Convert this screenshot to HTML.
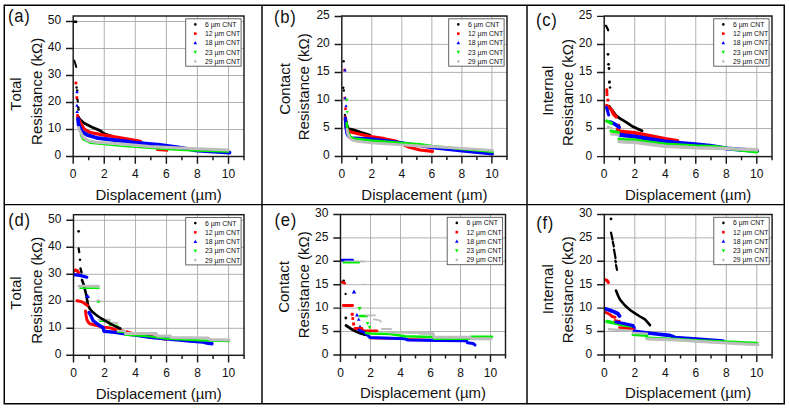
<!DOCTYPE html>
<html><head><meta charset="utf-8"><title>Resistance vs displacement</title>
<style>html,body{margin:0;padding:0;background:#fff;}body{width:789px;height:408px;overflow:hidden;font-family:"Liberation Sans", sans-serif;}svg{display:block;}</style>
</head><body>
<svg width="789" height="408" viewBox="0 0 789 408">
<style>text{font-family:"Liberation Sans",sans-serif;fill:#111;font-kerning:none}.tl{font-size:12.8px}.al{font-size:15px}.pl{font-size:18.5px;letter-spacing:0.8px}.lg{font-size:6.9px}</style>
<rect width="789" height="408" fill="#fff"/>
<clipPath id="clipa"><rect x="73.2" y="16.0" width="170.8" height="140.5"/></clipPath>
<path d="M104.26,16.00V156.50M135.32,16.00V156.50M166.38,16.00V156.50M197.44,16.00V156.50M228.50,16.00V156.50M73.20,129.50H244.00M73.20,102.50H244.00M73.20,75.50H244.00M73.20,48.50H244.00M73.20,21.50H244.00" stroke="#a8a8a8" stroke-width="0.9" fill="none"/>
<g clip-path="url(#clipa)">
<polyline points="72.60,21.70 76.20,21.70" stroke="#000" stroke-width="2.4" fill="none" stroke-linejoin="round" stroke-linecap="round"/>
<polyline points="74.20,60.50 75.30,63.50 76.20,67.00" stroke="#000" stroke-width="2.0" fill="none" stroke-linejoin="round" stroke-linecap="round"/>
<circle cx="76.60" cy="87.50" r="1.26" fill="#000"/>
<circle cx="77.20" cy="90.50" r="1.26" fill="#000"/>
<circle cx="77.40" cy="99.60" r="1.26" fill="#000"/>
<circle cx="77.80" cy="101.50" r="1.15" fill="#000"/>
<circle cx="78.30" cy="107.60" r="1.26" fill="#000"/>
<circle cx="78.60" cy="109.60" r="1.26" fill="#000"/>
<polyline points="78.00,116.50 80.00,119.50 84.30,123.30 91.60,127.00 100.20,130.60 103.90,133.50 108.80,135.40 112.40,136.40" stroke="#000" stroke-width="2.8" fill="none" stroke-linejoin="round" stroke-linecap="round"/>
<rect x="74.52" y="81.62" width="2.76" height="2.76" fill="#ff0000"/>
<rect x="75.42" y="96.22" width="2.76" height="2.76" fill="#ff0000"/>
<polyline points="77.60,115.50 78.00,117.60 81.20,124.50 84.30,129.20 90.40,132.60 102.60,134.90 122.00,138.00 140.50,141.30" stroke="#ff0000" stroke-width="3.2" fill="none" stroke-linejoin="round" stroke-linecap="round"/>
<polyline points="157.00,150.00 167.50,150.80" stroke="#ff0000" stroke-width="1.8" fill="none" stroke-linejoin="round" stroke-linecap="round"/>
<path d="M77.00,90.21L78.79,93.35L75.21,93.35Z" fill="#0000ff"/>
<path d="M77.00,103.71L78.79,106.85L75.21,106.85Z" fill="#0000ff"/>
<path d="M77.20,109.81L78.99,112.95L75.41,112.95Z" fill="#0000ff"/>
<polyline points="78.00,119.00 78.60,124.50 81.80,131.60 88.00,135.30 96.50,137.80 122.00,141.00 135.00,142.60 160.00,144.80 178.00,147.40 197.50,150.60 229.50,152.60" stroke="#0000ff" stroke-width="3.8" fill="none" stroke-linejoin="round" stroke-linecap="round"/>
<polyline points="80.50,135.00 83.00,139.60 90.40,143.30 122.00,146.20 150.00,148.30 175.00,149.90 197.50,150.90 228.60,151.90" stroke="#00ee00" stroke-width="1.6" fill="none" stroke-linejoin="round" stroke-linecap="round"/>
<polyline points="78.70,127.50 79.00,129.40 83.00,136.80 88.00,140.80 96.50,142.20 122.00,144.10 150.00,146.40 175.00,147.80 197.50,148.70 228.60,150.00" stroke="#bdbdbd" stroke-width="3.0" fill="none" stroke-linejoin="round" stroke-linecap="round"/>
</g>
<rect x="73.20" y="16.00" width="170.80" height="140.50" fill="none" stroke="#1a1a1a" stroke-width="1.45"/>
<path d="M73.20,156.50v7.2M88.73,156.50v3.7M104.26,156.50v7.2M119.79,156.50v3.7M135.32,156.50v7.2M150.85,156.50v3.7M166.38,156.50v7.2M181.91,156.50v3.7M197.44,156.50v7.2M212.97,156.50v3.7M228.50,156.50v7.2M244.03,156.50v3.7M73.20,156.50h-7.2M73.20,129.50h-7.2M73.20,102.50h-7.2M73.20,75.50h-7.2M73.20,48.50h-7.2M73.20,21.50h-7.2" stroke="#1a1a1a" stroke-width="1.45" fill="none"/>
<text transform="translate(73.20,178.20) scale(0.94,1)" text-anchor="middle" class="tl">0</text>
<text transform="translate(104.26,178.20) scale(0.94,1)" text-anchor="middle" class="tl">2</text>
<text transform="translate(135.32,178.20) scale(0.94,1)" text-anchor="middle" class="tl">4</text>
<text transform="translate(166.38,178.20) scale(0.94,1)" text-anchor="middle" class="tl">6</text>
<text transform="translate(197.44,178.20) scale(0.94,1)" text-anchor="middle" class="tl">8</text>
<text transform="translate(228.50,178.20) scale(0.94,1)" text-anchor="middle" class="tl">10</text>
<text transform="translate(61.20,159.40) scale(0.94,1)" text-anchor="end" class="tl">0</text>
<text transform="translate(61.20,132.40) scale(0.94,1)" text-anchor="end" class="tl">10</text>
<text transform="translate(61.20,105.40) scale(0.94,1)" text-anchor="end" class="tl">20</text>
<text transform="translate(61.20,78.40) scale(0.94,1)" text-anchor="end" class="tl">30</text>
<text transform="translate(61.20,51.40) scale(0.94,1)" text-anchor="end" class="tl">40</text>
<text transform="translate(61.20,24.40) scale(0.94,1)" text-anchor="end" class="tl">50</text>
<text x="158.60" y="199.90" text-anchor="middle" class="al">Displacement (µm)</text>
<text transform="translate(21.10,94.00) rotate(-90)" text-anchor="middle" class="al">Total</text>
<text transform="translate(41.80,91.40) rotate(-90)" text-anchor="middle" class="al">Resistance (kΩ)</text>
<text transform="translate(8.10,21.70) scale(0.9,1)" class="pl">(a)</text>
<rect x="185.70" y="18.80" width="55.40" height="47.40" fill="#fff" stroke="#555" stroke-width="0.9"/>
<circle cx="195.30" cy="24.40" r="1.30" fill="#000"/>
<text x="204.90" y="26.85" class="lg">6 µm CNT</text>
<rect x="194.00" y="32.35" width="2.60" height="2.60" fill="#ff0000"/>
<text x="204.90" y="36.10" class="lg">12 µm CNT</text>
<path d="M195.30,41.10L197.10,44.25L193.50,44.25Z" fill="#0000ff"/>
<text x="204.90" y="45.35" class="lg">18 µm CNT</text>
<path d="M195.30,53.95L197.10,50.80L193.50,50.80Z" fill="#00ee00"/>
<text x="204.90" y="54.60" class="lg">23 µm CNT</text>
<circle cx="195.30" cy="61.40" r="1.30" fill="#bdbdbd"/>
<text x="204.90" y="63.85" class="lg">29 µm CNT</text>
<clipPath id="clipb"><rect x="341.8" y="16.0" width="165.2" height="140.4"/></clipPath>
<path d="M371.82,16.00V156.40M401.84,16.00V156.40M431.86,16.00V156.40M461.88,16.00V156.40M491.90,16.00V156.40M341.80,128.40H507.00M341.80,100.40H507.00M341.80,72.40H507.00M341.80,44.40H507.00M341.80,16.40H507.00" stroke="#a8a8a8" stroke-width="0.9" fill="none"/>
<g clip-path="url(#clipb)">
<circle cx="343.60" cy="61.30" r="1.26" fill="#000"/>
<rect x="343.34" y="68.73" width="2.53" height="2.53" fill="#ff0000"/>
<path d="M345.00,68.41L346.79,71.55L343.21,71.55Z" fill="#0000ff"/>
<circle cx="343.20" cy="87.70" r="1.26" fill="#000"/>
<circle cx="343.80" cy="90.40" r="1.26" fill="#000"/>
<rect x="343.54" y="96.73" width="2.53" height="2.53" fill="#ff0000"/>
<path d="M345.20,96.54L346.86,99.44L343.54,99.44Z" fill="#0000ff"/>
<path d="M346.80,101.66L348.46,98.76L345.14,98.76Z" fill="#00ee00"/>
<path d="M346.00,104.34L347.66,107.24L344.34,107.24Z" fill="#0000ff"/>
<rect x="344.24" y="107.53" width="2.53" height="2.53" fill="#ff0000"/>
<path d="M347.30,113.72L348.82,111.06L345.78,111.06Z" fill="#00ee00"/>
<circle cx="345.00" cy="115.10" r="1.26" fill="#000"/>
<polyline points="345.50,118.00 346.50,124.00 348.00,128.60 353.50,130.00 361.60,132.70 369.70,135.20" stroke="#000" stroke-width="3.0" fill="none" stroke-linejoin="round" stroke-linecap="round"/>
<polyline points="345.20,117.00 345.50,122.00 346.00,127.00 347.50,130.20 350.00,131.80 353.50,132.80 371.00,136.70 384.50,138.70 396.70,141.40 407.50,146.60 420.00,150.00 432.50,151.40" stroke="#ff0000" stroke-width="3.2" fill="none" stroke-linejoin="round" stroke-linecap="round"/>
<polyline points="345.30,118.00 345.60,124.00 346.20,130.00 347.00,134.00 348.50,136.50 351.80,138.20 354.50,138.00 371.00,138.70 402.00,142.80 432.00,147.70 462.00,151.10 492.50,153.90" stroke="#0000ff" stroke-width="3.0" fill="none" stroke-linejoin="round" stroke-linecap="round"/>
<polyline points="346.60,123.00 347.30,129.00 348.60,133.50 350.30,136.50 353.50,138.50 371.00,140.60 402.00,143.00 420.00,144.30 432.00,146.00 462.00,149.00 492.50,151.80" stroke="#00ee00" stroke-width="2.6" fill="none" stroke-linejoin="round" stroke-linecap="round"/>
<polyline points="347.00,129.50 347.80,134.00 349.50,138.00 352.30,140.20 357.50,141.40 371.00,142.80 402.00,144.80 420.00,146.00 432.00,146.50 462.00,148.40 492.50,150.40" stroke="#bdbdbd" stroke-width="2.8" fill="none" stroke-linejoin="round" stroke-linecap="round"/>
</g>
<rect x="341.80" y="16.00" width="165.20" height="140.40" fill="none" stroke="#1a1a1a" stroke-width="1.45"/>
<path d="M341.80,156.40v7.2M356.81,156.40v3.7M371.82,156.40v7.2M386.83,156.40v3.7M401.84,156.40v7.2M416.85,156.40v3.7M431.86,156.40v7.2M446.87,156.40v3.7M461.88,156.40v7.2M476.89,156.40v3.7M491.90,156.40v7.2M506.91,156.40v3.7M341.80,156.40h-7.2M341.80,128.40h-7.2M341.80,100.40h-7.2M341.80,72.40h-7.2M341.80,44.40h-7.2M341.80,16.40h-7.2" stroke="#1a1a1a" stroke-width="1.45" fill="none"/>
<text transform="translate(341.80,178.10) scale(0.94,1)" text-anchor="middle" class="tl">0</text>
<text transform="translate(371.82,178.10) scale(0.94,1)" text-anchor="middle" class="tl">2</text>
<text transform="translate(401.84,178.10) scale(0.94,1)" text-anchor="middle" class="tl">4</text>
<text transform="translate(431.86,178.10) scale(0.94,1)" text-anchor="middle" class="tl">6</text>
<text transform="translate(461.88,178.10) scale(0.94,1)" text-anchor="middle" class="tl">8</text>
<text transform="translate(491.90,178.10) scale(0.94,1)" text-anchor="middle" class="tl">10</text>
<text transform="translate(329.80,159.30) scale(0.94,1)" text-anchor="end" class="tl">0</text>
<text transform="translate(329.80,131.30) scale(0.94,1)" text-anchor="end" class="tl">5</text>
<text transform="translate(329.80,103.30) scale(0.94,1)" text-anchor="end" class="tl">10</text>
<text transform="translate(329.80,75.30) scale(0.94,1)" text-anchor="end" class="tl">15</text>
<text transform="translate(329.80,47.30) scale(0.94,1)" text-anchor="end" class="tl">20</text>
<text transform="translate(329.80,19.30) scale(0.94,1)" text-anchor="end" class="tl">25</text>
<text x="424.40" y="199.80" text-anchor="middle" class="al">Displacement (µm)</text>
<text transform="translate(289.60,89.00) rotate(-90)" text-anchor="middle" class="al">Contact</text>
<text transform="translate(309.20,86.80) rotate(-90)" text-anchor="middle" class="al">Resistance (kΩ)</text>
<text transform="translate(274.00,23.00) scale(0.9,1)" class="pl">(b)</text>
<rect x="448.70" y="18.80" width="55.40" height="47.40" fill="#fff" stroke="#555" stroke-width="0.9"/>
<circle cx="458.30" cy="24.40" r="1.30" fill="#000"/>
<text x="467.90" y="26.85" class="lg">6 µm CNT</text>
<rect x="457.00" y="32.35" width="2.60" height="2.60" fill="#ff0000"/>
<text x="467.90" y="36.10" class="lg">12 µm CNT</text>
<path d="M458.30,41.10L460.10,44.25L456.50,44.25Z" fill="#0000ff"/>
<text x="467.90" y="45.35" class="lg">18 µm CNT</text>
<path d="M458.30,53.95L460.10,50.80L456.50,50.80Z" fill="#00ee00"/>
<text x="467.90" y="54.60" class="lg">23 µm CNT</text>
<circle cx="458.30" cy="61.40" r="1.30" fill="#bdbdbd"/>
<text x="467.90" y="63.85" class="lg">29 µm CNT</text>
<clipPath id="clipc"><rect x="604.2" y="16.0" width="167.79999999999995" height="140.6"/></clipPath>
<path d="M634.72,16.00V156.60M665.24,16.00V156.60M695.76,16.00V156.60M726.28,16.00V156.60M756.80,16.00V156.60M604.20,128.55H772.00M604.20,100.50H772.00M604.20,72.45H772.00M604.20,44.40H772.00M604.20,16.35H772.00" stroke="#a8a8a8" stroke-width="0.9" fill="none"/>
<g clip-path="url(#clipc)">
<polyline points="606.00,25.70 607.20,28.00 608.20,30.30" stroke="#000" stroke-width="2.2" fill="none" stroke-linejoin="round" stroke-linecap="round"/>
<circle cx="608.00" cy="54.30" r="1.38" fill="#000"/>
<circle cx="608.50" cy="64.30" r="1.38" fill="#000"/>
<circle cx="609.00" cy="68.50" r="1.38" fill="#000"/>
<circle cx="609.50" cy="81.80" r="1.38" fill="#000"/>
<circle cx="609.30" cy="82.40" r="1.26" fill="#000"/>
<circle cx="610.00" cy="87.50" r="1.26" fill="#000"/>
<rect x="605.42" y="88.42" width="2.76" height="2.76" fill="#ff0000"/>
<rect x="605.52" y="90.92" width="2.76" height="2.76" fill="#ff0000"/>
<rect x="605.62" y="93.32" width="2.76" height="2.76" fill="#ff0000"/>
<rect x="606.52" y="98.72" width="2.76" height="2.76" fill="#ff0000"/>
<polyline points="609.00,106.20 612.50,110.80 616.10,115.60 619.50,118.20 623.20,120.40 628.00,123.40 632.00,126.20 637.00,128.60 642.00,130.70" stroke="#000" stroke-width="2.8" fill="none" stroke-linejoin="round" stroke-linecap="round"/>
<polyline points="606.70,105.60 609.00,107.50 611.40,109.80 613.80,114.50 616.10,116.80" stroke="#ff0000" stroke-width="3.6" fill="none" stroke-linejoin="round" stroke-linecap="round"/>
<rect x="616.67" y="123.88" width="3.45" height="3.45" fill="#ff0000"/>
<polyline points="617.50,129.80 620.00,131.40 625.00,132.00 634.70,132.80 645.00,134.80 665.00,138.90 677.50,140.80" stroke="#ff0000" stroke-width="3.8" fill="none" stroke-linejoin="round" stroke-linecap="round"/>
<polyline points="606.50,107.50 607.50,111.00 608.70,115.00" stroke="#0000ff" stroke-width="3.0" fill="none" stroke-linejoin="round" stroke-linecap="round"/>
<polyline points="610.20,122.00 615.00,124.20 619.20,127.20" stroke="#0000ff" stroke-width="3.6" fill="none" stroke-linejoin="round" stroke-linecap="round"/>
<polyline points="619.80,134.60 625.00,135.50 634.70,136.50 645.00,138.30 665.00,141.50 680.00,143.10 695.00,144.40 710.00,145.90 727.00,148.50 757.00,150.80" stroke="#0000ff" stroke-width="4.2" fill="none" stroke-linejoin="round" stroke-linecap="round"/>
<polyline points="606.70,121.00 611.40,123.30" stroke="#00ee00" stroke-width="3.2" fill="none" stroke-linejoin="round" stroke-linecap="round"/>
<polyline points="611.00,131.00 618.50,132.60" stroke="#00ee00" stroke-width="3.2" fill="none" stroke-linejoin="round" stroke-linecap="round"/>
<polyline points="619.00,139.00 625.00,139.50 634.70,139.80 645.00,141.70 665.00,144.00 695.00,145.90 715.00,146.70 735.00,149.30 757.00,151.90" stroke="#00ee00" stroke-width="3.2" fill="none" stroke-linejoin="round" stroke-linecap="round"/>
<polyline points="607.90,127.00 611.40,128.00" stroke="#bdbdbd" stroke-width="2.6" fill="none" stroke-linejoin="round" stroke-linecap="round"/>
<polyline points="611.40,134.30 618.50,134.90" stroke="#bdbdbd" stroke-width="2.6" fill="none" stroke-linejoin="round" stroke-linecap="round"/>
<polyline points="619.00,141.60 625.00,142.00 634.70,142.20 645.00,143.80 665.00,146.20 695.00,147.80 715.00,148.20 735.00,148.90 757.00,149.70" stroke="#bdbdbd" stroke-width="3.4" fill="none" stroke-linejoin="round" stroke-linecap="round"/>
</g>
<rect x="604.20" y="16.00" width="167.80" height="140.60" fill="none" stroke="#1a1a1a" stroke-width="1.45"/>
<path d="M604.20,156.60v7.2M619.46,156.60v3.7M634.72,156.60v7.2M649.98,156.60v3.7M665.24,156.60v7.2M680.50,156.60v3.7M695.76,156.60v7.2M711.02,156.60v3.7M726.28,156.60v7.2M741.54,156.60v3.7M756.80,156.60v7.2M772.06,156.60v3.7M604.20,156.60h-7.2M604.20,128.55h-7.2M604.20,100.50h-7.2M604.20,72.45h-7.2M604.20,44.40h-7.2M604.20,16.35h-7.2" stroke="#1a1a1a" stroke-width="1.45" fill="none"/>
<text transform="translate(604.20,178.30) scale(0.94,1)" text-anchor="middle" class="tl">0</text>
<text transform="translate(634.72,178.30) scale(0.94,1)" text-anchor="middle" class="tl">2</text>
<text transform="translate(665.24,178.30) scale(0.94,1)" text-anchor="middle" class="tl">4</text>
<text transform="translate(695.76,178.30) scale(0.94,1)" text-anchor="middle" class="tl">6</text>
<text transform="translate(726.28,178.30) scale(0.94,1)" text-anchor="middle" class="tl">8</text>
<text transform="translate(756.80,178.30) scale(0.94,1)" text-anchor="middle" class="tl">10</text>
<text transform="translate(592.20,159.50) scale(0.94,1)" text-anchor="end" class="tl">0</text>
<text transform="translate(592.20,131.45) scale(0.94,1)" text-anchor="end" class="tl">5</text>
<text transform="translate(592.20,103.40) scale(0.94,1)" text-anchor="end" class="tl">10</text>
<text transform="translate(592.20,75.35) scale(0.94,1)" text-anchor="end" class="tl">15</text>
<text transform="translate(592.20,47.30) scale(0.94,1)" text-anchor="end" class="tl">20</text>
<text transform="translate(592.20,19.25) scale(0.94,1)" text-anchor="end" class="tl">25</text>
<text x="688.10" y="200.00" text-anchor="middle" class="al">Displacement (µm)</text>
<text transform="translate(552.80,90.80) rotate(-90)" text-anchor="middle" class="al">Internal</text>
<text transform="translate(573.40,92.50) rotate(-90)" text-anchor="middle" class="al">Resistance (kΩ)</text>
<text transform="translate(535.90,25.50) scale(0.9,1)" class="pl">(c)</text>
<rect x="713.70" y="18.80" width="55.40" height="47.40" fill="#fff" stroke="#555" stroke-width="0.9"/>
<circle cx="723.30" cy="24.40" r="1.30" fill="#000"/>
<text x="732.90" y="26.85" class="lg">6 µm CNT</text>
<rect x="722.00" y="32.35" width="2.60" height="2.60" fill="#ff0000"/>
<text x="732.90" y="36.10" class="lg">12 µm CNT</text>
<path d="M723.30,41.10L725.10,44.25L721.50,44.25Z" fill="#0000ff"/>
<text x="732.90" y="45.35" class="lg">18 µm CNT</text>
<path d="M723.30,53.95L725.10,50.80L721.50,50.80Z" fill="#00ee00"/>
<text x="732.90" y="54.60" class="lg">23 µm CNT</text>
<circle cx="723.30" cy="61.40" r="1.30" fill="#bdbdbd"/>
<text x="732.90" y="63.85" class="lg">29 µm CNT</text>
<clipPath id="clipd"><rect x="73.5" y="214.7" width="170.5" height="140.60000000000002"/></clipPath>
<path d="M104.52,214.70V355.30M135.54,214.70V355.30M166.56,214.70V355.30M197.58,214.70V355.30M228.60,214.70V355.30M73.50,328.30H244.00M73.50,301.30H244.00M73.50,274.30H244.00M73.50,247.30H244.00M73.50,220.30H244.00" stroke="#a8a8a8" stroke-width="0.9" fill="none"/>
<g clip-path="url(#clipd)">
<circle cx="78.60" cy="231.30" r="1.38" fill="#000"/>
<polyline points="78.60,248.30 79.30,252.20" stroke="#000" stroke-width="2.2" fill="none" stroke-linejoin="round" stroke-linecap="round"/>
<circle cx="80.00" cy="259.70" r="1.26" fill="#000"/>
<polyline points="80.50,268.50 81.50,272.50" stroke="#000" stroke-width="2.4" fill="none" stroke-linejoin="round" stroke-linecap="round"/>
<polyline points="74.00,271.00 75.50,270.00 77.30,270.70 78.40,272.60" stroke="#ff0000" stroke-width="3.2" fill="none" stroke-linejoin="round" stroke-linecap="round"/>
<polyline points="73.80,274.60 80.00,275.40 86.80,277.20" stroke="#0000ff" stroke-width="3.2" fill="none" stroke-linejoin="round" stroke-linecap="round"/>
<polyline points="82.00,280.00 83.50,284.00 85.00,290.00 86.50,296.00 88.00,305.50 90.00,309.00 92.00,311.50 95.90,314.80 100.80,318.20" stroke="#000" stroke-width="2.6" fill="none" stroke-linejoin="round" stroke-linecap="round"/>
<polyline points="79.00,286.20 98.50,286.20" stroke="#bdbdbd" stroke-width="2.8" fill="none" stroke-linejoin="round" stroke-linecap="round"/>
<polyline points="80.00,288.30 99.00,288.30" stroke="#00ee00" stroke-width="1.6" fill="none" stroke-linejoin="round" stroke-linecap="round"/>
<path d="M87.60,293.72L90.08,298.06L85.12,298.06Z" fill="#0000ff"/>
<polyline points="97.20,300.70 99.20,300.70" stroke="#bdbdbd" stroke-width="2.2" fill="none" stroke-linejoin="round" stroke-linecap="round"/>
<polyline points="97.50,302.00 99.50,302.00" stroke="#00ee00" stroke-width="1.4" fill="none" stroke-linejoin="round" stroke-linecap="round"/>
<polyline points="77.00,300.80 81.00,301.50 84.00,303.00 87.50,305.50" stroke="#ff0000" stroke-width="3.0" fill="none" stroke-linejoin="round" stroke-linecap="round"/>
<polyline points="85.50,311.00 86.20,316.00 87.00,320.00 88.50,322.50 90.00,323.80 95.90,325.20 103.70,327.20 108.00,327.60 111.60,328.30 115.00,329.50 125.00,331.50 136.00,334.50 150.00,336.60 166.00,339.30" stroke="#ff0000" stroke-width="3.0" fill="none" stroke-linejoin="round" stroke-linecap="round"/>
<polyline points="89.00,312.50 91.00,316.00 93.00,320.50 98.00,324.50 103.20,328.00 104.00,331.20 115.00,332.40 123.30,333.60 135.00,335.00 150.00,337.30 166.00,338.70 190.00,341.10 203.00,342.10 207.00,343.00 212.00,343.80" stroke="#0000ff" stroke-width="3.4" fill="none" stroke-linejoin="round" stroke-linecap="round"/>
<polyline points="99.80,321.20 109.60,321.40" stroke="#00ee00" stroke-width="1.8" fill="none" stroke-linejoin="round" stroke-linecap="round"/>
<polyline points="109.60,325.20 117.50,325.60" stroke="#00ee00" stroke-width="1.8" fill="none" stroke-linejoin="round" stroke-linecap="round"/>
<polyline points="117.50,331.80 125.30,332.30" stroke="#00ee00" stroke-width="1.8" fill="none" stroke-linejoin="round" stroke-linecap="round"/>
<polyline points="125.30,335.00 136.00,335.30 150.00,336.50 166.00,338.60 200.00,340.30 229.00,341.20" stroke="#00ee00" stroke-width="2.2" fill="none" stroke-linejoin="round" stroke-linecap="round"/>
<polyline points="98.80,319.40 109.60,319.80" stroke="#bdbdbd" stroke-width="2.2" fill="none" stroke-linejoin="round" stroke-linecap="round"/>
<polyline points="109.60,322.50 117.50,323.00" stroke="#bdbdbd" stroke-width="2.2" fill="none" stroke-linejoin="round" stroke-linecap="round"/>
<polyline points="117.50,330.60 125.30,331.00" stroke="#bdbdbd" stroke-width="2.2" fill="none" stroke-linejoin="round" stroke-linecap="round"/>
<polyline points="125.30,333.60 156.00,333.60 157.00,335.90 170.00,335.90 171.00,337.40 208.00,338.10 210.00,339.40 229.00,340.00" stroke="#bdbdbd" stroke-width="3.0" fill="none" stroke-linejoin="round" stroke-linecap="round"/>
<polyline points="100.80,318.20 105.00,320.60 109.60,323.40 115.00,326.20 120.40,328.50" stroke="#000" stroke-width="2.6" fill="none" stroke-linejoin="round" stroke-linecap="round"/>
</g>
<rect x="73.50" y="214.70" width="170.50" height="140.60" fill="none" stroke="#1a1a1a" stroke-width="1.45"/>
<path d="M73.50,355.30v7.2M89.01,355.30v3.7M104.52,355.30v7.2M120.03,355.30v3.7M135.54,355.30v7.2M151.05,355.30v3.7M166.56,355.30v7.2M182.07,355.30v3.7M197.58,355.30v7.2M213.09,355.30v3.7M228.60,355.30v7.2M244.11,355.30v3.7M73.50,355.30h-7.2M73.50,328.30h-7.2M73.50,301.30h-7.2M73.50,274.30h-7.2M73.50,247.30h-7.2M73.50,220.30h-7.2" stroke="#1a1a1a" stroke-width="1.45" fill="none"/>
<text transform="translate(73.50,377.00) scale(0.94,1)" text-anchor="middle" class="tl">0</text>
<text transform="translate(104.52,377.00) scale(0.94,1)" text-anchor="middle" class="tl">2</text>
<text transform="translate(135.54,377.00) scale(0.94,1)" text-anchor="middle" class="tl">4</text>
<text transform="translate(166.56,377.00) scale(0.94,1)" text-anchor="middle" class="tl">6</text>
<text transform="translate(197.58,377.00) scale(0.94,1)" text-anchor="middle" class="tl">8</text>
<text transform="translate(228.60,377.00) scale(0.94,1)" text-anchor="middle" class="tl">10</text>
<text transform="translate(61.50,358.20) scale(0.94,1)" text-anchor="end" class="tl">0</text>
<text transform="translate(61.50,331.20) scale(0.94,1)" text-anchor="end" class="tl">10</text>
<text transform="translate(61.50,304.20) scale(0.94,1)" text-anchor="end" class="tl">20</text>
<text transform="translate(61.50,277.20) scale(0.94,1)" text-anchor="end" class="tl">30</text>
<text transform="translate(61.50,250.20) scale(0.94,1)" text-anchor="end" class="tl">40</text>
<text transform="translate(61.50,223.20) scale(0.94,1)" text-anchor="end" class="tl">50</text>
<text x="158.75" y="398.70" text-anchor="middle" class="al">Displacement (µm)</text>
<text transform="translate(21.20,293.00) rotate(-90)" text-anchor="middle" class="al">Total</text>
<text transform="translate(41.70,290.30) rotate(-90)" text-anchor="middle" class="al">Resistance (kΩ)</text>
<text transform="translate(8.20,225.70) scale(0.9,1)" class="pl">(d)</text>
<rect x="185.70" y="217.50" width="55.40" height="47.40" fill="#fff" stroke="#555" stroke-width="0.9"/>
<circle cx="195.30" cy="223.10" r="1.30" fill="#000"/>
<text x="204.90" y="225.55" class="lg">6 µm CNT</text>
<rect x="194.00" y="231.05" width="2.60" height="2.60" fill="#ff0000"/>
<text x="204.90" y="234.80" class="lg">12 µm CNT</text>
<path d="M195.30,239.80L197.10,242.95L193.50,242.95Z" fill="#0000ff"/>
<text x="204.90" y="244.05" class="lg">18 µm CNT</text>
<path d="M195.30,252.65L197.10,249.50L193.50,249.50Z" fill="#00ee00"/>
<text x="204.90" y="253.30" class="lg">23 µm CNT</text>
<circle cx="195.30" cy="260.10" r="1.30" fill="#bdbdbd"/>
<text x="204.90" y="262.55" class="lg">29 µm CNT</text>
<clipPath id="clipe"><rect x="340.5" y="214.5" width="165.0" height="140.39999999999998"/></clipPath>
<path d="M370.50,214.50V354.90M400.50,214.50V354.90M430.50,214.50V354.90M460.50,214.50V354.90M490.50,214.50V354.90M340.50,331.50H505.50M340.50,308.10H505.50M340.50,284.70H505.50M340.50,261.30H505.50M340.50,237.90H505.50M340.50,214.50H505.50" stroke="#a8a8a8" stroke-width="0.9" fill="none"/>
<g clip-path="url(#clipe)">
<polyline points="341.20,260.20 352.60,260.20" stroke="#0000ff" stroke-width="2.8" fill="none" stroke-linejoin="round" stroke-linecap="round"/>
<polyline points="345.00,261.50 364.40,261.50" stroke="#bdbdbd" stroke-width="1.8" fill="none" stroke-linejoin="round" stroke-linecap="round"/>
<polyline points="343.50,262.70 359.00,262.70" stroke="#00ee00" stroke-width="1.8" fill="none" stroke-linejoin="round" stroke-linecap="round"/>
<circle cx="343.60" cy="281.00" r="1.38" fill="#000"/>
<polyline points="341.60,282.00 344.80,283.20" stroke="#ff0000" stroke-width="2.6" fill="none" stroke-linejoin="round" stroke-linecap="round"/>
<polyline points="362.50,284.30 366.00,284.30" stroke="#bdbdbd" stroke-width="1.2" fill="none" stroke-linejoin="round" stroke-linecap="round"/>
<path d="M354.00,289.59L356.21,293.46L351.79,293.46Z" fill="#0000ff"/>
<circle cx="345.60" cy="294.00" r="1.15" fill="#000"/>
<polyline points="343.30,305.50 352.60,305.50" stroke="#ff0000" stroke-width="2.8" fill="none" stroke-linejoin="round" stroke-linecap="round"/>
<path d="M359.60,310.67L361.67,307.05L357.53,307.05Z" fill="#00ee00"/>
<rect x="350.70" y="312.81" width="2.99" height="2.99" fill="#ff0000"/>
<rect x="351.42" y="317.12" width="2.76" height="2.76" fill="#ff0000"/>
<path d="M357.00,312.93L359.07,316.55L354.93,316.55Z" fill="#0000ff"/>
<path d="M358.70,317.61L360.49,320.75L356.91,320.75Z" fill="#0000ff"/>
<polyline points="360.00,316.00 367.00,316.00" stroke="#00ee00" stroke-width="2.4" fill="none" stroke-linejoin="round" stroke-linecap="round"/>
<polyline points="366.00,315.30 375.00,315.30" stroke="#bdbdbd" stroke-width="1.8" fill="none" stroke-linejoin="round" stroke-linecap="round"/>
<polyline points="374.00,319.30 379.00,320.20 381.00,321.50" stroke="#bdbdbd" stroke-width="1.8" fill="none" stroke-linejoin="round" stroke-linecap="round"/>
<circle cx="345.80" cy="318.00" r="1.38" fill="#000"/>
<rect x="352.11" y="322.50" width="2.99" height="2.99" fill="#ff0000"/>
<path d="M360.00,324.67L361.93,328.05L358.07,328.05Z" fill="#0000ff"/>
<path d="M367.60,325.33L369.53,321.95L365.67,321.95Z" fill="#00ee00"/>
<path d="M369.60,329.13L371.53,325.75L367.67,325.75Z" fill="#00ee00"/>
<polyline points="382.00,329.00 391.00,329.00" stroke="#bdbdbd" stroke-width="1.8" fill="none" stroke-linejoin="round" stroke-linecap="round"/>
<polyline points="346.00,325.50 350.00,328.20 355.00,331.00 360.00,333.20 365.00,334.70" stroke="#000" stroke-width="2.8" fill="none" stroke-linejoin="round" stroke-linecap="round"/>
<polyline points="355.00,328.50 362.00,328.50 362.50,330.90 377.00,330.90" stroke="#ff0000" stroke-width="2.8" fill="none" stroke-linejoin="round" stroke-linecap="round"/>
<polyline points="370.00,338.20 405.00,338.90 437.00,340.00 466.00,340.20" stroke="#ff0000" stroke-width="2.0" fill="none" stroke-linejoin="round" stroke-linecap="round"/>
<polyline points="359.00,330.00 365.00,333.00 370.00,337.50 385.00,338.00 405.00,338.80 408.00,340.00 437.00,340.60 466.50,340.80 467.50,342.80 473.00,343.40 475.00,345.00" stroke="#0000ff" stroke-width="3.0" fill="none" stroke-linejoin="round" stroke-linecap="round"/>
<polyline points="366.00,333.00 370.00,333.50 390.00,334.00 405.00,336.20 433.00,337.00 434.00,338.60 470.00,338.60 471.00,336.80 492.00,336.80" stroke="#00ee00" stroke-width="2.6" fill="none" stroke-linejoin="round" stroke-linecap="round"/>
<polyline points="389.00,332.40 420.00,332.80" stroke="#bdbdbd" stroke-width="2.4" fill="none" stroke-linejoin="round" stroke-linecap="round"/>
<polyline points="420.00,333.20 433.00,333.60 434.00,337.20 470.00,337.20 471.00,338.80 491.00,338.80" stroke="#bdbdbd" stroke-width="3.0" fill="none" stroke-linejoin="round" stroke-linecap="round"/>
</g>
<rect x="340.50" y="214.50" width="165.00" height="140.40" fill="none" stroke="#1a1a1a" stroke-width="1.45"/>
<path d="M340.50,354.90v7.2M355.50,354.90v3.7M370.50,354.90v7.2M385.50,354.90v3.7M400.50,354.90v7.2M415.50,354.90v3.7M430.50,354.90v7.2M445.50,354.90v3.7M460.50,354.90v7.2M475.50,354.90v3.7M490.50,354.90v7.2M505.50,354.90v3.7M340.50,354.90h-7.2M340.50,331.50h-7.2M340.50,308.10h-7.2M340.50,284.70h-7.2M340.50,261.30h-7.2M340.50,237.90h-7.2M340.50,214.50h-7.2" stroke="#1a1a1a" stroke-width="1.45" fill="none"/>
<text transform="translate(340.50,376.60) scale(0.94,1)" text-anchor="middle" class="tl">0</text>
<text transform="translate(370.50,376.60) scale(0.94,1)" text-anchor="middle" class="tl">2</text>
<text transform="translate(400.50,376.60) scale(0.94,1)" text-anchor="middle" class="tl">4</text>
<text transform="translate(430.50,376.60) scale(0.94,1)" text-anchor="middle" class="tl">6</text>
<text transform="translate(460.50,376.60) scale(0.94,1)" text-anchor="middle" class="tl">8</text>
<text transform="translate(490.50,376.60) scale(0.94,1)" text-anchor="middle" class="tl">10</text>
<text transform="translate(328.50,357.80) scale(0.94,1)" text-anchor="end" class="tl">0</text>
<text transform="translate(328.50,334.40) scale(0.94,1)" text-anchor="end" class="tl">5</text>
<text transform="translate(328.50,311.00) scale(0.94,1)" text-anchor="end" class="tl">10</text>
<text transform="translate(328.50,287.60) scale(0.94,1)" text-anchor="end" class="tl">15</text>
<text transform="translate(328.50,264.20) scale(0.94,1)" text-anchor="end" class="tl">20</text>
<text transform="translate(328.50,240.80) scale(0.94,1)" text-anchor="end" class="tl">25</text>
<text transform="translate(328.50,217.40) scale(0.94,1)" text-anchor="end" class="tl">30</text>
<text x="423.00" y="398.30" text-anchor="middle" class="al">Displacement (µm)</text>
<text transform="translate(289.30,287.00) rotate(-90)" text-anchor="middle" class="al">Contact</text>
<text transform="translate(308.80,284.80) rotate(-90)" text-anchor="middle" class="al">Resistance (kΩ)</text>
<text transform="translate(274.50,226.40) scale(0.9,1)" class="pl">(e)</text>
<rect x="447.20" y="217.30" width="55.40" height="47.40" fill="#fff" stroke="#555" stroke-width="0.9"/>
<circle cx="456.80" cy="222.90" r="1.30" fill="#000"/>
<text x="466.40" y="225.35" class="lg">6 µm CNT</text>
<rect x="455.50" y="230.85" width="2.60" height="2.60" fill="#ff0000"/>
<text x="466.40" y="234.60" class="lg">12 µm CNT</text>
<path d="M456.80,239.60L458.60,242.75L455.00,242.75Z" fill="#0000ff"/>
<text x="466.40" y="243.85" class="lg">18 µm CNT</text>
<path d="M456.80,252.45L458.60,249.30L455.00,249.30Z" fill="#00ee00"/>
<text x="466.40" y="253.10" class="lg">23 µm CNT</text>
<circle cx="456.80" cy="259.90" r="1.30" fill="#bdbdbd"/>
<text x="466.40" y="262.35" class="lg">29 µm CNT</text>
<clipPath id="clipf"><rect x="604.3" y="214.5" width="167.80000000000007" height="140.39999999999998"/></clipPath>
<path d="M634.80,214.50V354.90M665.30,214.50V354.90M695.80,214.50V354.90M726.30,214.50V354.90M756.80,214.50V354.90M604.30,331.50H772.10M604.30,308.10H772.10M604.30,284.70H772.10M604.30,261.30H772.10M604.30,237.90H772.10M604.30,214.50H772.10" stroke="#a8a8a8" stroke-width="0.9" fill="none"/>
<g clip-path="url(#clipf)">
<circle cx="611.00" cy="218.90" r="1.38" fill="#000"/>
<polyline points="611.00,232.60 612.50,239.50" stroke="#000" stroke-width="2.2" fill="none" stroke-linejoin="round" stroke-linecap="round"/>
<polyline points="612.80,241.50 613.80,246.50" stroke="#000" stroke-width="2.2" fill="none" stroke-linejoin="round" stroke-linecap="round"/>
<polyline points="614.00,249.50 615.50,258.00" stroke="#000" stroke-width="2.2" fill="none" stroke-linejoin="round" stroke-linecap="round"/>
<polyline points="615.40,260.50 615.80,262.50" stroke="#000" stroke-width="2.2" fill="none" stroke-linejoin="round" stroke-linecap="round"/>
<polyline points="616.00,265.00 617.00,269.90" stroke="#000" stroke-width="2.2" fill="none" stroke-linejoin="round" stroke-linecap="round"/>
<polyline points="605.20,279.80 607.00,280.40 608.30,282.40" stroke="#ff0000" stroke-width="3.2" fill="none" stroke-linejoin="round" stroke-linecap="round"/>
<polyline points="616.00,290.50 618.00,295.50 620.00,299.60 625.00,305.50 630.00,310.00 635.00,313.30 640.00,316.50 645.00,319.40 650.00,325.20" stroke="#000" stroke-width="2.6" fill="none" stroke-linejoin="round" stroke-linecap="round"/>
<polyline points="606.00,312.50 610.00,314.50 612.00,316.50 615.00,317.20" stroke="#ff0000" stroke-width="3.0" fill="none" stroke-linejoin="round" stroke-linecap="round"/>
<polyline points="605.00,308.80 610.00,310.30 615.00,312.20 618.00,313.80 619.50,316.00" stroke="#0000ff" stroke-width="3.8" fill="none" stroke-linejoin="round" stroke-linecap="round"/>
<polyline points="615.00,320.40 619.50,321.30" stroke="#ff0000" stroke-width="2.6" fill="none" stroke-linejoin="round" stroke-linecap="round"/>
<polyline points="607.00,321.50 615.00,323.20 625.00,325.60 632.00,327.80" stroke="#00ee00" stroke-width="3.4" fill="none" stroke-linejoin="round" stroke-linecap="round"/>
<polyline points="616.00,322.00 625.00,323.80 633.00,325.60 634.30,328.00" stroke="#0000ff" stroke-width="3.2" fill="none" stroke-linejoin="round" stroke-linecap="round"/>
<polyline points="619.50,327.60 633.30,329.40" stroke="#ff0000" stroke-width="2.8" fill="none" stroke-linejoin="round" stroke-linecap="round"/>
<polyline points="609.00,329.20 620.00,330.00 633.00,331.00" stroke="#bdbdbd" stroke-width="2.6" fill="none" stroke-linejoin="round" stroke-linecap="round"/>
<polyline points="634.30,331.40 650.00,333.20 665.00,334.90 670.00,335.40 675.00,337.50 700.00,339.20 723.00,341.00" stroke="#0000ff" stroke-width="3.6" fill="none" stroke-linejoin="round" stroke-linecap="round"/>
<polyline points="633.00,334.60 647.00,335.60" stroke="#00ee00" stroke-width="3.0" fill="none" stroke-linejoin="round" stroke-linecap="round"/>
<polyline points="647.00,338.20 675.00,339.40 700.00,340.80 730.00,342.20 757.00,343.40" stroke="#00ee00" stroke-width="3.2" fill="none" stroke-linejoin="round" stroke-linecap="round"/>
<polyline points="633.00,333.00 647.00,333.60" stroke="#bdbdbd" stroke-width="2.4" fill="none" stroke-linejoin="round" stroke-linecap="round"/>
<polyline points="647.00,338.90 678.00,340.00 700.00,341.50 726.00,343.10 758.00,344.80" stroke="#bdbdbd" stroke-width="3.0" fill="none" stroke-linejoin="round" stroke-linecap="round"/>
</g>
<rect x="604.30" y="214.50" width="167.80" height="140.40" fill="none" stroke="#1a1a1a" stroke-width="1.45"/>
<path d="M604.30,354.90v7.2M619.55,354.90v3.7M634.80,354.90v7.2M650.05,354.90v3.7M665.30,354.90v7.2M680.55,354.90v3.7M695.80,354.90v7.2M711.05,354.90v3.7M726.30,354.90v7.2M741.55,354.90v3.7M756.80,354.90v7.2M772.05,354.90v3.7M604.30,354.90h-7.2M604.30,331.50h-7.2M604.30,308.10h-7.2M604.30,284.70h-7.2M604.30,261.30h-7.2M604.30,237.90h-7.2M604.30,214.50h-7.2" stroke="#1a1a1a" stroke-width="1.45" fill="none"/>
<text transform="translate(604.30,376.60) scale(0.94,1)" text-anchor="middle" class="tl">0</text>
<text transform="translate(634.80,376.60) scale(0.94,1)" text-anchor="middle" class="tl">2</text>
<text transform="translate(665.30,376.60) scale(0.94,1)" text-anchor="middle" class="tl">4</text>
<text transform="translate(695.80,376.60) scale(0.94,1)" text-anchor="middle" class="tl">6</text>
<text transform="translate(726.30,376.60) scale(0.94,1)" text-anchor="middle" class="tl">8</text>
<text transform="translate(756.80,376.60) scale(0.94,1)" text-anchor="middle" class="tl">10</text>
<text transform="translate(592.30,357.80) scale(0.94,1)" text-anchor="end" class="tl">0</text>
<text transform="translate(592.30,334.40) scale(0.94,1)" text-anchor="end" class="tl">5</text>
<text transform="translate(592.30,311.00) scale(0.94,1)" text-anchor="end" class="tl">10</text>
<text transform="translate(592.30,287.60) scale(0.94,1)" text-anchor="end" class="tl">15</text>
<text transform="translate(592.30,264.20) scale(0.94,1)" text-anchor="end" class="tl">20</text>
<text transform="translate(592.30,240.80) scale(0.94,1)" text-anchor="end" class="tl">25</text>
<text transform="translate(592.30,217.40) scale(0.94,1)" text-anchor="end" class="tl">30</text>
<text x="688.20" y="398.30" text-anchor="middle" class="al">Displacement (µm)</text>
<text transform="translate(553.20,289.30) rotate(-90)" text-anchor="middle" class="al">Internal</text>
<text transform="translate(573.40,289.80) rotate(-90)" text-anchor="middle" class="al">Resistance (kΩ)</text>
<text transform="translate(536.20,228.90) scale(0.9,1)" class="pl">(f)</text>
<rect x="713.80" y="217.30" width="55.40" height="47.40" fill="#fff" stroke="#555" stroke-width="0.9"/>
<circle cx="723.40" cy="222.90" r="1.30" fill="#000"/>
<text x="733.00" y="225.35" class="lg">6 µm CNT</text>
<rect x="722.10" y="230.85" width="2.60" height="2.60" fill="#ff0000"/>
<text x="733.00" y="234.60" class="lg">12 µm CNT</text>
<path d="M723.40,239.60L725.20,242.75L721.60,242.75Z" fill="#0000ff"/>
<text x="733.00" y="243.85" class="lg">18 µm CNT</text>
<path d="M723.40,252.45L725.20,249.30L721.60,249.30Z" fill="#00ee00"/>
<text x="733.00" y="253.10" class="lg">23 µm CNT</text>
<circle cx="723.40" cy="259.90" r="1.30" fill="#bdbdbd"/>
<text x="733.00" y="262.35" class="lg">29 µm CNT</text>
<path d="M4.25,5.3H784.25V403.8H4.25Z M262,5.3V403.8 M527,5.3V403.8 M4.25,204.6H784.25" stroke="#000" stroke-width="1.45" fill="none"/>
</svg>
</body></html>
